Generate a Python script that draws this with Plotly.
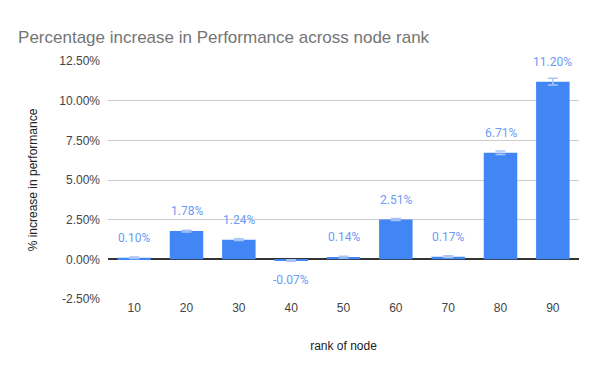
import plotly.graph_objects as go

# node ranks and percentage increase (as fractions)
ranks = ["10", "20", "30", "40", "50", "60", "70", "80", "90"]
increase = [0.0010, 0.0178, 0.0124, -0.0007, 0.0014, 0.0251, 0.0017, 0.0671, 0.1120]
errors = [0.0005, 0.0005, 0.0005, 0.0005, 0.0005, 0.0006, 0.0005, 0.0011, 0.0021]
labels = ["0.10%", "1.78%", "1.24%", "-0.07%", "0.14%", "2.51%", "0.17%", "6.71%", "11.20%"]

# y ticks (plain hyphen for the negative one, as in the source chart)
y_ticks = [-0.025, 0.0, 0.025, 0.05, 0.075, 0.10, 0.125]
y_tick_text = ["-2.50%", "0.00%", "2.50%", "5.00%", "7.50%", "10.00%", "12.50%"]

BAR = "#4285F4"

fig = go.Figure()
fig.add_trace(go.Bar(
    x=ranks,
    y=increase,
    marker=dict(color=BAR, line=dict(width=0)),
    error_y=dict(type="data", array=errors, color="#a9c5f8", thickness=1.5, width=5),
    width=0.64,
    showlegend=False,
))

# data labels above (or below) each bar; x given as category index
for i, (v, t) in enumerate(zip(increase, labels)):
    fig.add_annotation(
        x=i, y=v, text=t, showarrow=False,
        yshift=20 if v >= 0 else -20,
        font=dict(family="Roboto, Arial, sans-serif", size=12, color="#6b9bf6"),
    )

# page body keeps an 8px margin, so the figure is a bit smaller than the window
fig.update_layout(
    width=592, height=363,
    margin=dict(l=100, r=21, t=53, b=72),
    paper_bgcolor="white",
    plot_bgcolor="white",
    title=dict(
        text="Percentage increase in Performance across node rank",
        x=0.017, xanchor="left", y=0.92, yanchor="middle",
        font=dict(family="Arial, Liberation Sans, sans-serif", size=17, color="#757575"),
    ),
    font=dict(family="Arial, Liberation Sans, sans-serif", size=11, color="#444444"),
)

fig.update_xaxes(
    type="category", range=[-0.5, len(ranks) - 0.5],
    title=dict(text="rank of node", font=dict(size=12, color="#222222"), standoff=27),
    tickfont=dict(size=12, color="#444444"),
    showgrid=False, showline=False, ticks="",
)
fig.update_yaxes(
    title=dict(text="% increase in performance", font=dict(size=12, color="#222222"), standoff=19),
    range=[-0.025, 0.125], tickvals=y_ticks, ticktext=y_tick_text,
    tickfont=dict(size=12, color="#444444"),
    gridcolor="#cccccc", gridwidth=1,
    zeroline=True, zerolinecolor="#333333", zerolinewidth=1.5,
    ticks="", ticklabelstandoff=7,
)

fig.write_html("out.html")
